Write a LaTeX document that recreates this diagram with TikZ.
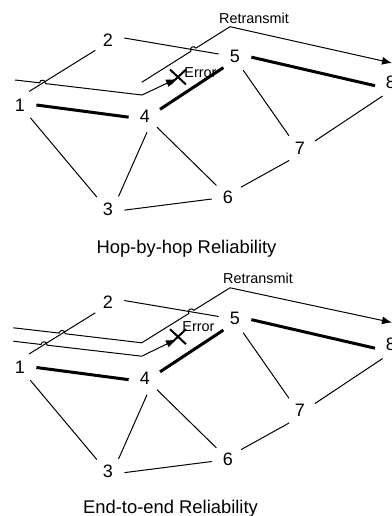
\documentclass[tikz,border=0pt]{standalone}
\usepackage{fontspec}
\setmainfont{Liberation Sans}
\usetikzlibrary{arrows.meta,shapes.misc}

\begin{document}
\begin{tikzpicture}[x=0.5pt,y=-0.5pt,
    vertex/.style={circle,minimum size=16pt,inner sep=0pt,font=\fontsize{9}{9}\selectfont},
    link/.style={line width=0.5pt},
    heavy/.style={line width=1.5pt},
    flow/.style={line width=0.5pt,-{Latex[length=5pt,width=4pt]}},
    note/.style={font=\fontsize{7.2}{8}\selectfont,inner sep=0pt},
    caption/.style={font=\fontsize{9.2}{11}\selectfont,inner sep=0pt},
    fail/.style={cross out,draw,line width=1pt,minimum width=7pt,minimum height=6.5pt,inner sep=0pt}]

\useasboundingbox (0,0) rectangle (392,516);

% the same network, twice
\foreach \g/\dy in {a/0,b/262.5}{
  \begin{scope}[yshift=-\dy*0.5pt]
    \node[vertex] (\g1) at (20,105) {1};
    \node[vertex] (\g2) at (108,40) {2};
    \node[vertex] (\g3) at (108,209) {3};
    \node[vertex] (\g4) at (145,116) {4};
    \node[vertex] (\g5) at (235,56) {5};
    \node[vertex] (\g6) at (228,197) {6};
    \node[vertex] (\g7) at (300,148) {7};
    \node[vertex] (\g8) at (391,82) {8};

    \draw[link] (\g1.56) -- (\g2.219);
    \draw[link] (\g2.7) -- (\g5.173);
    \draw[heavy] (\g1.0) -- (\g4.184);
    \draw[heavy] (\g4.24) -- (\g5.225);
    \draw[heavy] (\g5.356) -- (\g8.193);
    \draw[link] (\g5.300) -- (\g7.132);
    \draw[link] (\g8.239) -- (\g7.25);
    \draw[link] (\g1.309) -- (\g3.133);
    \draw[link] (\g4.277) -- (\g3.50);
    \draw[link] (\g4.317) -- (\g6.135);
    \draw[link] (\g6.37) -- (\g7.229);
    \draw[link] (\g3.356) -- (\g6.187);
  \end{scope}
}

% hop-by-hop: node 4 sends again
\coordinate (a-src) at (15,80);
\coordinate (a-bend) at (142,95);
\coordinate (a-tip) at (176,79);
\coordinate (a-rs) at (141.7,82.3);
\coordinate (a-peak) at (230,26.7);
\coordinate (a-dst) at (392,63);
\draw[flow] (a-src) -- (39.5,82.8) .. controls (40,78.8) and (46,79.6) .. (45.5,83.6) -- (a-bend) -- (a-tip);
\node[fail] (a-x) at (178,77) {};
\node[note,anchor=west] (a-err) at (184,73) {Error};
\draw[flow] (a-rs) -- (190.9,51.3) .. controls (188.8,47.9) and (193.8,44.7) .. (195.9,48.1) -- (a-peak) -- (a-dst);
\node[note] (a-re) at (254,18) {Retransmit};
\node[caption] (a-cap) at (186.5,248.5) {Hop-by-hop Reliability};

% end-to-end: node 1 sends again
\begin{scope}[yshift=-131.25pt]
  \coordinate (b-src) at (13.3,78.7);
  \coordinate (b-bend) at (141.7,93.7);
  \coordinate (b-tip) at (176,77);
  \coordinate (b-rs) at (13.3,65.3);
  \coordinate (b-corner) at (141.7,80.3);
  \coordinate (b-peak) at (230,25.3);
  \coordinate (b-dst) at (392,60);
  \draw[flow] (b-src) -- (41,81.95) .. controls (41.5,78) and (47.5,78.7) .. (47,82.65) -- (b-bend) -- (b-tip);
  \node[fail] (b-x) at (178,74.2) {};
  \node[note,anchor=west] (b-err) at (182,64.5) {Error};
  \draw[flow] (b-rs) -- (59.1,70.55) .. controls (59.6,66.6) and (65.6,67.3) .. (65.1,71.25) -- (b-corner)
    -- (188.75,51) .. controls (186.6,47.6) and (191.7,44.4) .. (193.85,47.8) -- (b-peak) -- (b-dst);
  \node[note] (b-re) at (258,15.5) {Retransmit};
\end{scope}
\node[caption] (b-cap) at (170.5,508.5) {End-to-end Reliability};
\end{tikzpicture}
\end{document}
